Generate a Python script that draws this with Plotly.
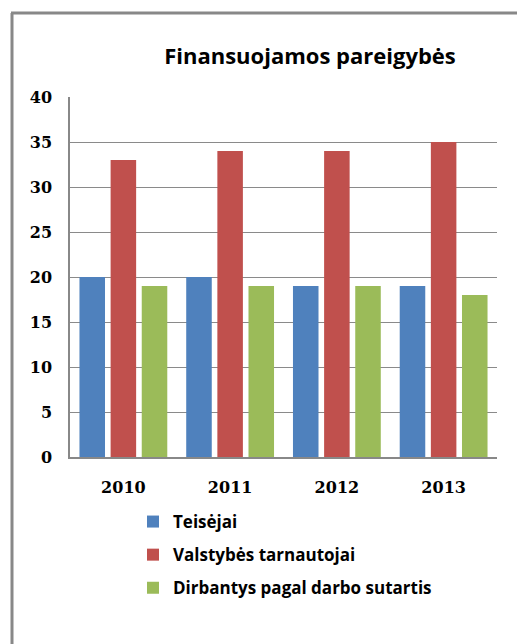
import plotly.graph_objects as go

years = ["2010", "2011", "2012", "2013"]
teisejai = [20, 20, 19, 19]
valstybes = [33, 34, 34, 35]
dirbantys = [19, 19, 19, 18]
series_names = ["Teisėjai", "Valstybės tarnautojai", "Dirbantys pagal darbo sutartis"]
colors = ["#4F81BD", "#C0504D", "#9BBB59"]
y_ticks = [0, 5, 10, 15, 20, 25, 30, 35, 40]

W, H = 517, 644
L, R, T, B = 70, 20, 97, 187
pw, ph = W - L - R, H - T - B

def px_x(x):
    return (x - L) / pw

def px_y(y):
    return (H - B - y) / ph

fig = go.Figure()
for i, (name, vals) in enumerate(zip(series_names, [teisejai, valstybes, dirbantys])):
    fig.add_trace(go.Bar(x=years, y=vals, name=name, marker_color=colors[i],
                         marker_line_width=0, legendgroup=str(i)))

fig.update_layout(
    width=W, height=H,
    margin=dict(l=L, r=R, t=T, b=B),
    paper_bgcolor="white", plot_bgcolor="white",
    barmode="group", bargap=0.125, bargroupgap=0.18,
    title=dict(text="<b>Finansuojamos pareigybės</b>", x=px_x(310), xref="paper", xanchor="center",
               y=1 - 56 / H, yanchor="middle",
               font=dict(family="Open Sans", size=22, color="black")),
    xaxis=dict(showline=True, linecolor="#888888", linewidth=1.5, ticks="",
               ticklabelstandoff=15,
               tickfont=dict(family="DejaVu Serif", size=16, color="black", weight="bold")),
    yaxis=dict(range=[0, 40], tickvals=y_ticks, showline=True, linecolor="#888888", linewidth=1.5,
               showgrid=True, gridcolor="#8a8a8a", gridwidth=1, zeroline=False, ticks="",
               ticklabelstandoff=13,
               tickfont=dict(family="DejaVu Serif", size=16, color="black", weight="bold")),
    legend=dict(x=px_x(133), y=px_y(504), xanchor="left", yanchor="top",
                font=dict(family="Open Sans", size=17, color="black", weight="bold"),
                tracegroupgap=8, itemwidth=30),
    shapes=[
        dict(type="line", xref="paper", yref="paper", x0=px_x(12), x1=px_x(12),
             y0=px_y(13), y1=px_y(H + 5), line=dict(color="#888888", width=3)),
        dict(type="line", xref="paper", yref="paper", x0=px_x(11), x1=px_x(W + 5),
             y0=px_y(13), y1=px_y(13), line=dict(color="#888888", width=3)),
    ],
)

fig.write_html("out.html", config={"displayModeBar": False},
               post_script="document.body.style.margin='0px';document.body.style.padding='0px';")
